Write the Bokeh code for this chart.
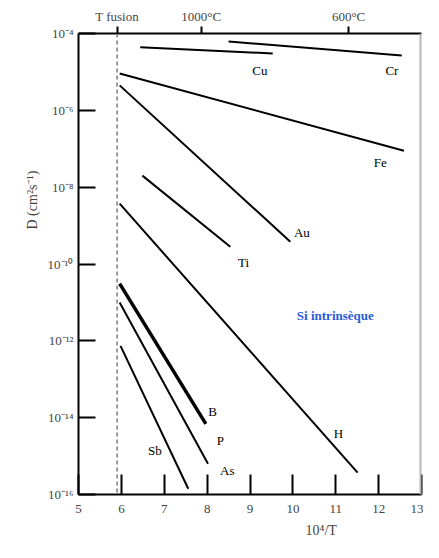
import math
from bokeh.plotting import figure
from bokeh.models import LinearAxis, FixedTicker, Span, Label, Range1d, Title
from bokeh.embed import file_html
from bokeh.resources import INLINE

# ---- data (10^4/T, log10 D) ----
species = ["Cu", "Cr", "Fe", "Au", "Ti", "H", "B", "P", "Sb"]
x_start = [6.44, 8.50, 5.96, 5.96, 6.49, 5.96, 5.96, 5.96, 5.98]
x_end = [9.53, 12.54, 12.59, 9.94, 8.54, 11.51, 7.97, 8.02, 7.56]
logd_start = [-4.36, -4.21, -5.04, -5.35, -7.70, -8.43, -10.51, -11.00, -12.13]
logd_end = [-4.52, -4.57, -7.05, -9.42, -9.55, -15.43, -14.16, -15.20, -15.85]
widths = [2, 2, 2, 2, 2, 2, 3.5, 2, 2]

label_names = ["Cu", "Cr", "Fe", "Au", "Ti", "H", "B", "P", "As", "Sb"]
label_x = [9.23, 12.31, 12.04, 10.21, 8.85, 11.06, 8.13, 8.31, 8.47, 6.78]
label_y = [-4.96, -4.96, -7.36, -9.18, -9.96, -14.42, -13.84, -14.60, -15.38, -14.86]

x_ticks = [5, 6, 7, 8, 9, 10, 11, 12, 13]
y_ticks = [-16, -14, -12, -10, -8, -6, -4]
y_tick_labels = ["10⁻¹⁶", "10⁻¹⁴", "10⁻¹²", "10⁻¹⁰", "10⁻⁸", "10⁻⁶", "10⁻⁴"]
t_fusion = 5.9
top_ticks = [t_fusion, 7.86, 11.30]
top_tick_labels = ["T fusion", "1000°C", "600°C"]

FONT = "Liberation Serif"
W, H = 423, 542

p = figure(width=W, height=H, output_backend="svg", toolbar_location=None,
           x_range=Range1d(5, 13), y_range=Range1d(-16, -4),
           min_border_left=78, min_border_right=2, min_border_top=33, min_border_bottom=48)
p.outline_line_color = None
p.xgrid.visible = False
p.ygrid.visible = False
p.background_fill_color = "white"

# bottom axis
xa = p.xaxis[0]
xa.ticker = FixedTicker(ticks=x_ticks)
xa.major_tick_in = 20
xa.major_tick_out = 0
xa.minor_tick_line_color = None
xa.axis_line_width = 2
xa.major_tick_line_width = 2
xa.major_label_text_font = FONT
xa.major_label_text_font_size = "13px"
xa.major_label_standoff = 10

# left axis
ya = p.yaxis[0]
ya.ticker = FixedTicker(ticks=y_ticks)
ya.major_label_overrides = {t: l for t, l in zip(y_ticks, y_tick_labels)}
ya.major_tick_in = 17
ya.major_tick_out = 0
ya.minor_tick_line_color = None
ya.axis_line_width = 2
ya.major_tick_line_width = 2
ya.major_label_text_font = FONT
ya.major_label_text_font_size = "13px"
ya.major_label_standoff = 5

# top axis (melting point and temperatures)
top = LinearAxis(ticker=FixedTicker(ticks=top_ticks),
                 major_label_overrides={t: l for t, l in zip(top_ticks, top_tick_labels)})
top.major_tick_in = 0
top.major_tick_out = 7
top.minor_tick_line_color = None
top.axis_line_width = 2
top.major_tick_line_width = 2
top.major_label_text_font = FONT
top.major_label_text_font_size = "13px"
top.major_label_standoff = 3
p.add_layout(top, "above")

# axis titles as Title annotations (outside the frame)
xt = Title(text="10⁴/T", align="left", offset=227, text_font=FONT,
           text_font_size="14px", text_font_style="normal")
p.add_layout(xt, "below")
yt = Title(text="D (cm²s⁻¹)", align="left", offset=265, text_font=FONT,
           text_font_size="14px", text_font_style="normal")
p.add_layout(yt, "left")

# right gray border
p.add_layout(Span(location=13, dimension="height", line_color="#b5b5b5", line_width=4))

# melting temperature dashed line
p.add_layout(Span(location=t_fusion, dimension="height", line_color="#7a7a7a",
                  line_width=1.5, line_dash="4 3"))

# diffusion lines
for i in range(len(species)):
    p.line([x_start[i], x_end[i]], [logd_start[i], logd_end[i]],
           line_color="black", line_width=widths[i])

# element labels
for n, lx, ly in zip(label_names, label_x, label_y):
    p.add_layout(Label(x=lx, y=ly, text=n, text_font=FONT, text_font_size="13px",
                       text_align="center", text_baseline="middle", text_color="black"))

# Si intrinsèque
p.add_layout(Label(x=10.99, y=-11.34, text="Si intrinsèque", text_font=FONT,
                   text_font_size="13px", text_font_style="bold", text_color="#2a5bd7",
                   text_align="center", text_baseline="middle"))

open("out.html", "w").write(file_html(p, INLINE))
